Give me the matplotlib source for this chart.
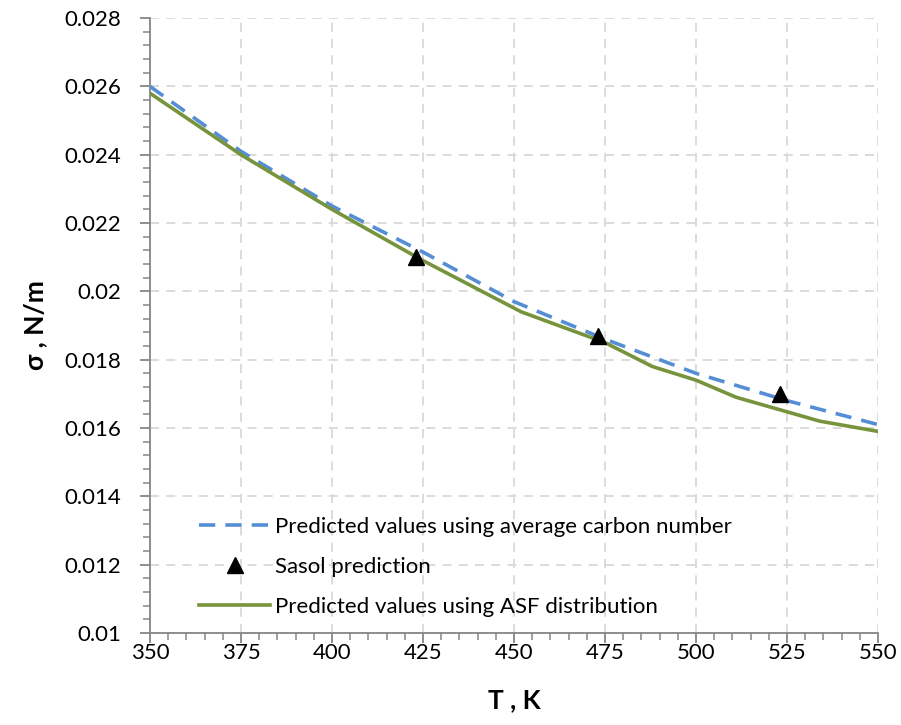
import matplotlib.pyplot as plt
from matplotlib.ticker import MultipleLocator

plt.rcParams['font.family'] = ['Lato', 'DejaVu Sans']

# predicted surface tension, average carbon number
t_avg = [350, 375, 400, 425, 450, 475, 500, 525, 550]
s_avg = [0.0260, 0.0241, 0.0225, 0.02115, 0.0197, 0.0186, 0.0176, 0.0168, 0.0161]

# Sasol prediction points
t_sasol = [423.15, 473.15, 523.15]
s_sasol = [0.0210, 0.0187, 0.0170]

# predicted surface tension, ASF distribution
t_asf = [350, 375, 400, 425, 452, 475, 488, 500, 511, 534, 550]
s_asf = [0.0258, 0.0240, 0.0224, 0.0209, 0.0194, 0.0185, 0.0178, 0.0174, 0.0169, 0.0162, 0.0159]

fig = plt.figure(figsize=(9.01, 7.25), dpi=100)
ax = fig.add_axes([0.1665, 0.127, 0.808, 0.848])

ax.plot(t_avg, s_avg, color='#558ed5', linestyle=(0, (4.5, 2.8)), linewidth=2.6,
        label='Predicted values using average carbon number', zorder=3)
ax.plot(t_sasol, s_sasol, linestyle='none', marker='^', color='black', markersize=12,
        label='Sasol prediction', zorder=4)
ax.plot(t_asf, s_asf, color='#77933c', linewidth=2.6,
        label='Predicted values using ASF distribution', zorder=3)

ax.set_xlim(350, 550)
ax.set_ylim(0.01, 0.028)
ax.xaxis.set_major_locator(MultipleLocator(25))
ax.xaxis.set_minor_locator(MultipleLocator(5))
ax.yaxis.set_major_locator(MultipleLocator(0.002))
ax.yaxis.set_minor_locator(MultipleLocator(0.0004))
ax.set_yticks([0.01, 0.012, 0.014, 0.016, 0.018, 0.02, 0.022, 0.024, 0.026, 0.028])
ax.set_yticklabels(['0.01', '0.012', '0.014', '0.016', '0.018', '0.02', '0.022',
                    '0.024', '0.026', '0.028'])

ax.grid(True, which='major', color='#d9d9d9', linestyle=(0, (5, 4)), linewidth=1.3)
ax.set_axisbelow(True)

for side in ['top', 'right']:
    ax.spines[side].set_visible(False)
for side in ['left', 'bottom']:
    ax.spines[side].set_color('#868686')
    ax.spines[side].set_linewidth(1.3)

ax.tick_params(which='major', length=7, width=1.3, color='#868686', labelsize=16,
               labelcolor='black')
ax.tick_params(which='minor', length=5, width=1.1, color='#868686')
ax.tick_params(axis='x', pad=0)
ax.tick_params(axis='y', pad=14)

ax.set_xlabel('T , K', fontsize=19, fontweight='bold', labelpad=18)
ax.set_ylabel('σ , N/m', fontsize=19, fontweight='bold', labelpad=12)

ax.legend(loc='lower left', bbox_to_anchor=(0.04, -0.006), frameon=False, fontsize=16,
          handlelength=3.2, handletextpad=0.2, labelspacing=0.9)

fig.savefig('out.png', dpi=100)
